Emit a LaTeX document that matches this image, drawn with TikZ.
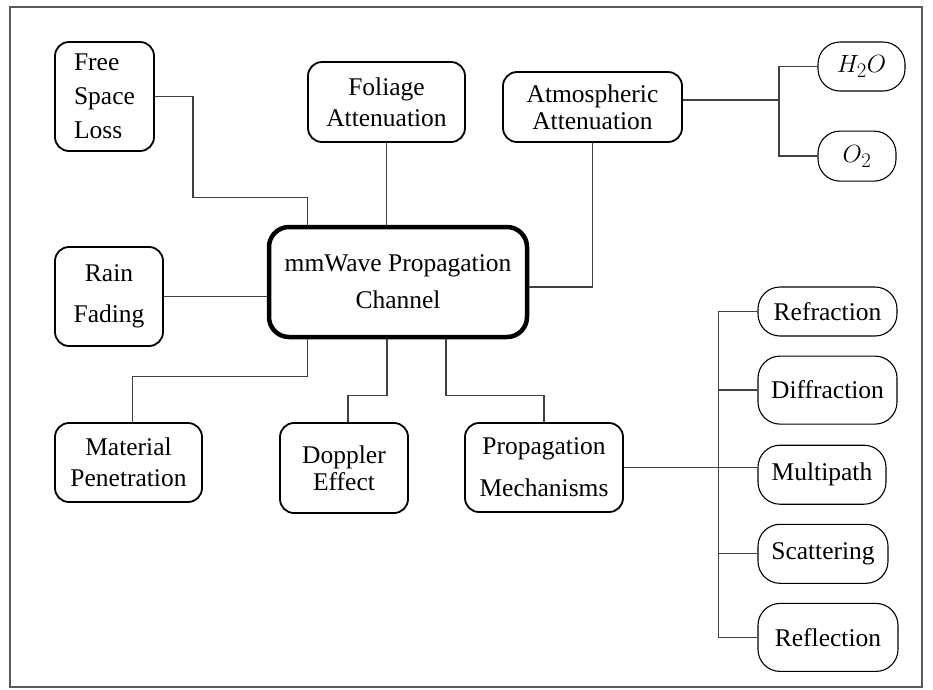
\documentclass[tikz,border=0pt]{standalone}
\usepackage{fontspec}
\setmainfont{Liberation Serif}
\usetikzlibrary{positioning}

\begin{document}
\begin{tikzpicture}[
    x=1pt, y=-1pt,
    font=\fontsize{25.5}{31}\selectfont,
    box/.style={
        draw,
        line width=1.8pt,
        rounded corners=14pt,
        align=center,
        inner sep=0pt
    },
    pill/.style={
        draw,
        line width=1.1pt,
        rounded corners=22pt,
        align=center,
        inner sep=0pt
    },
    gas/.style={
        pill,
        font=\fontsize{31}{31}\selectfont
    },
    hub/.style={
        box,
        line width=4.5pt,
        rounded corners=20pt
    },
    link/.style={
        line width=1.3pt,
        black!75
    }
]

\useasboundingbox (0,0) rectangle (933,689);
\draw[black!65, line width=2pt] (10,7) rectangle (922,687);

% Centre and the effects round it
\node[hub, minimum width=258pt, minimum height=110pt] (hub) at (398,282)
    {mmWave Propagation\\[6pt] Channel};

\node[box, align=left, minimum width=99pt, minimum height=109pt] (fsl) at (104.5,96.5)
    {Free\\[3pt] Space\\[3pt] Loss};
\node[box, minimum width=157pt, minimum height=80pt] (fol) at (386.5,102)
    {Foliage\\ Attenuation};
\node[box, minimum width=179pt, minimum height=70pt] (atm) at (592.5,107)
    {Atmospheric\\[-4pt] Attenuation};
\node[box, minimum width=108pt, minimum height=99pt] (rain) at (109,296.5)
    {Rain\\[10pt] Fading};
\node[box, minimum width=147pt, minimum height=79pt] (mat) at (128.5,462.5)
    {Material\\ Penetration};
\node[box, minimum width=128pt, minimum height=90pt] (dop) at (344,468)
    {Doppler\\[-4pt] Effect};
\node[box, minimum width=158pt, minimum height=89pt] (pm) at (544,467.5)
    {Propagation\\[11pt] Mechanisms};

% Gases
\node[gas, minimum width=87pt, minimum height=49pt] (h2o) at (861.5,66.5) {$H_2O$};
\node[gas, minimum width=78pt, minimum height=50pt,
    below=39pt of h2o.south west, anchor=north west] (o2) {$O_2$};

% Mechanisms column
\node[pill, minimum width=139pt, minimum height=49pt] (refr) at (827.5,311.5) {Refraction};
\node[pill, minimum width=139pt, minimum height=68pt,
    below=19pt of refr.south west, anchor=north west] (diff) {Diffraction};
\node[pill, minimum width=128pt, minimum height=59pt,
    below=20pt of diff.south west, anchor=north west] (mp) {Multipath};
\node[pill, minimum width=130pt, minimum height=59pt,
    below=19pt of mp.south west, anchor=north west] (scat) {Scattering};
\node[pill, minimum width=140pt, minimum height=68pt,
    below=19pt of scat.south west, anchor=north west] (refl) {Reflection};

% Connectors
\draw[link] (fsl.east) -- ++(38,0)
    |- ([xshift=41pt,yshift=27pt]hub.north west)
    -- ([xshift=41pt]hub.north west);
\draw[link] (fol.south) -- (fol.south |- hub.north);
\draw[link] (atm.south) |- ([yshift=-5pt]hub.east);
\draw[link] (rain.east) -- (rain.east -| hub.west);

\draw[link] ([xshift=4pt]mat.north)
    |- ([xshift=41pt,yshift=-37pt]hub.south west)
    -- ([xshift=41pt]hub.south west);
\draw[link] ([xshift=4pt]dop.north)
    |- ([xshift=-11pt,yshift=-56pt]hub.south)
    -- ([xshift=-11pt]hub.south);
\draw[link] (pm.north)
    |- ([xshift=48pt,yshift=-56pt]hub.south)
    -- ([xshift=48pt]hub.south);

\draw[link] ([yshift=7pt]atm.east) -- ++(96,0) coordinate (fork);
\draw[link] (h2o.west) -| (fork) |- (o2.west);

\draw[link] (pm.east) -- (pm.east -| mp.west);
\draw[link] (refr.west) -- ++(-39,0) coordinate (bus)
    -- (bus |- refl.west) -- (refl.west);
\foreach \n in {diff,scat}
    \draw[link] (\n.west) -- (\n.west -| bus);

\end{tikzpicture}
\end{document}
